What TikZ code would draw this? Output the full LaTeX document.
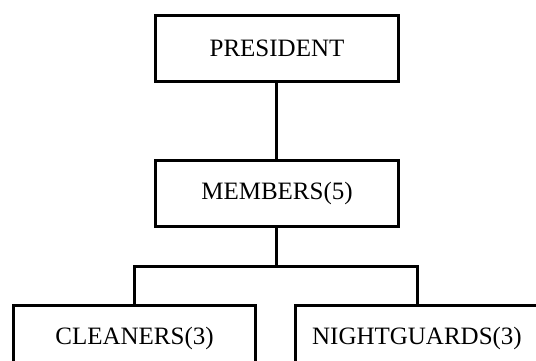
\documentclass[tikz,border=0pt]{standalone}
\usepackage{fontspec}
\setmainfont{Liberation Serif}
\usepackage{tikz}
\usetikzlibrary{positioning,calc}

\begin{document}
\begin{tikzpicture}[
      box/.style={rectangle,draw,line width=1.5pt,minimum width=121pt,minimum height=33pt,
        align=center,font=\fontsize{12.5}{15}\selectfont},
      link/.style={line width=1.5pt}
      ]

      \clip (-138.5pt,24.25pt) rectangle (129.5pt,-155.75pt);

      \node[box] (president) at (0,0) {PRESIDENT};

      \node[box,below=38pt of president] (members) {MEMBERS(5)};

      \node[box,below=38pt of members,xshift=-71.25pt] (cleaners) {CLEANERS(3)};

      \node[box,below=38pt of members,xshift=70pt] (nightguards) {NIGHTGUARDS(3)};

      \coordinate (fork) at ([yshift=-19pt]members.south);

      \draw[link] (president) -- (members);
      \draw[link] (members) -- (fork);
      \draw[link] (cleaners.north) |- (fork) -| (nightguards.north);

    \end{tikzpicture}
\end{document}
